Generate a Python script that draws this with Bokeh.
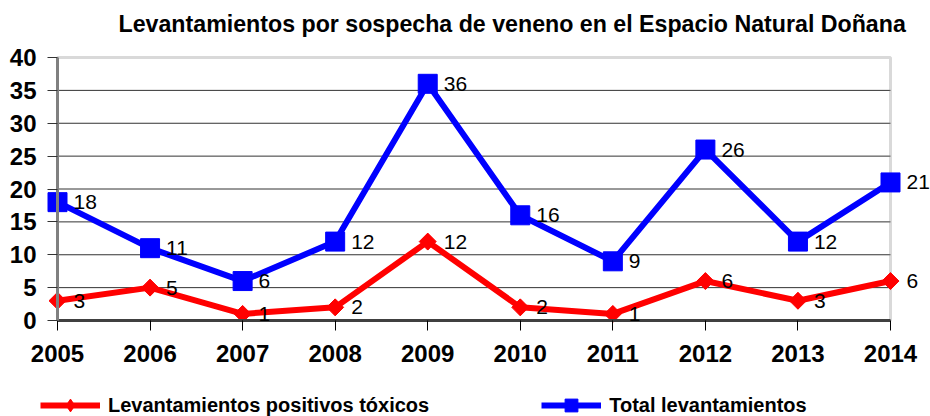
import numpy as np
from bokeh.plotting import figure
from bokeh.models import (Range1d, FixedTicker, BoxAnnotation, Legend, LegendItem,
                          LabelSet, ColumnDataSource, Label)
from bokeh.core.properties import value
from bokeh.embed import file_html
from bokeh.resources import INLINE

# ---- data ----
years = [2005, 2006, 2007, 2008, 2009, 2010, 2011, 2012, 2013, 2014]
positivos = [3, 5, 1, 2, 12, 2, 1, 6, 3, 6]
total = [18, 11, 6, 12, 36, 16, 9, 26, 12, 21]
y_ticks = [0, 5, 10, 15, 20, 25, 30, 35, 40]

title_text = "Levantamientos por sospecha de veneno en el Espacio Natural Doñana"
label_pos = "Levantamientos positivos tóxicos"
label_tot = "Total levantamientos"

FONT = "Liberation Sans"
W, H = 930, 416
# pixel layout of the plot area inside the canvas
PX_LEFT, PX_RIGHT, PX_TOP, PX_BOTTOM = 57, 890, 57, 320

ppx = (PX_RIGHT - PX_LEFT) / (years[-1] - years[0])
ppy = (PX_BOTTOM - PX_TOP) / (y_ticks[-1] - y_ticks[0])
x_range = Range1d(years[0] - PX_LEFT / ppx, years[-1] + (W - PX_RIGHT) / ppx)
y_range = Range1d(y_ticks[0] - (H - PX_BOTTOM) / ppy, y_ticks[-1] + PX_TOP / ppy)

p = figure(width=W, height=H, output_backend="svg", toolbar_location=None,
           title=None, x_range=x_range, y_range=y_range,
           min_border_left=0, min_border_right=0, min_border_top=0, min_border_bottom=0)
p.outline_line_color = None
p.background_fill_color = "white"
p.border_fill_color = "white"
p.xgrid.visible = False
p.ygrid.visible = False

# y axis
yax = p.yaxis[0]
yax.fixed_location = years[0]
yax.bounds = (y_ticks[0], y_ticks[-1])
yax.ticker = FixedTicker(ticks=y_ticks)
yax.major_label_text_font = FONT
yax.major_label_text_font_style = "bold"
yax.major_label_text_font_size = "24px"
yax.major_label_text_color = "black"
yax.axis_line_color = "#808080"
yax.axis_line_width = 3
yax.major_tick_out = 10
yax.major_tick_in = 0
yax.major_tick_line_color = "#333333"
yax.minor_tick_line_color = None
yax.major_label_standoff = 11

# x axis
xax = p.xaxis[0]
xax.fixed_location = y_ticks[0]
xax.bounds = (years[0], years[-1])
xax.ticker = FixedTicker(ticks=years)
xax.major_label_text_font = FONT
xax.major_label_text_font_style = "bold"
xax.major_label_text_font_size = "24px"
xax.major_label_text_color = "black"
xax.axis_line_color = "#404040"
xax.axis_line_width = 3
xax.major_tick_out = 10
xax.major_tick_in = 0
xax.major_tick_line_color = "black"
xax.minor_tick_line_color = None
xax.major_label_standoff = 14

# horizontal grid lines inside the plot area
grid_y = y_ticks[1:-1]
p.segment(x0=[years[0]] * len(grid_y), x1=[years[-1]] * len(grid_y), y0=grid_y, y1=grid_y,
          line_color="#333333", line_width=1, level="underlay")

# plot-area border
p.add_layout(BoxAnnotation(left=years[0], right=years[-1], bottom=y_ticks[0], top=y_ticks[-1],
                           fill_alpha=0, line_color="#808080", line_width=3, level="underlay"))

# series
r1 = p.line(years, positivos, line_color="#FF0000", line_width=6)
d1 = p.scatter(years, positivos, marker="diamond", size=16,
               fill_color="#FF0000", line_color="#FF0000")
s1 = p.scatter(years, positivos, marker="square", angle=np.pi / 4, size=12,
               fill_color="#FF0000", line_color="#FF0000")
r2 = p.line(years, total, line_color="#0000FF", line_width=6)
s2 = p.scatter(years, total, marker="square", size=19,
               fill_color="#0000FF", line_color="#0000FF")

# data labels
for vals in (positivos, total):
    src = ColumnDataSource(dict(x=years, y=vals, t=[str(v) for v in vals]))
    p.add_layout(LabelSet(x="x", y="y", text="t", source=src, x_offset=16, y_offset=0,
                          text_baseline="middle", text_align="left",
                          text_font=value(FONT), text_font_size=value("21px"),
                          text_color="black"))

# title
p.add_layout(Label(x=118, y=H - 23, x_units="screen", y_units="screen", text=title_text,
                   text_font=FONT, text_font_style="bold", text_font_size="23.2px",
                   text_color="black", text_align="left", text_baseline="alphabetic"))

# legend
legend = Legend(items=[LegendItem(label=label_pos, renderers=[r1, d1]),
                       LegendItem(label=label_tot, renderers=[r2, s2])],
                orientation="horizontal", location=(40, H - 405 - 16), padding=0, margin=0,
                border_line_color=None, background_fill_alpha=0,
                glyph_width=60, glyph_height=32, label_standoff=8, spacing=112,
                label_text_font=FONT, label_text_font_style="bold",
                label_text_font_size="20px", label_text_color="black")
p.add_layout(legend, "center")

open("out.html", "w").write(file_html(p, INLINE))
